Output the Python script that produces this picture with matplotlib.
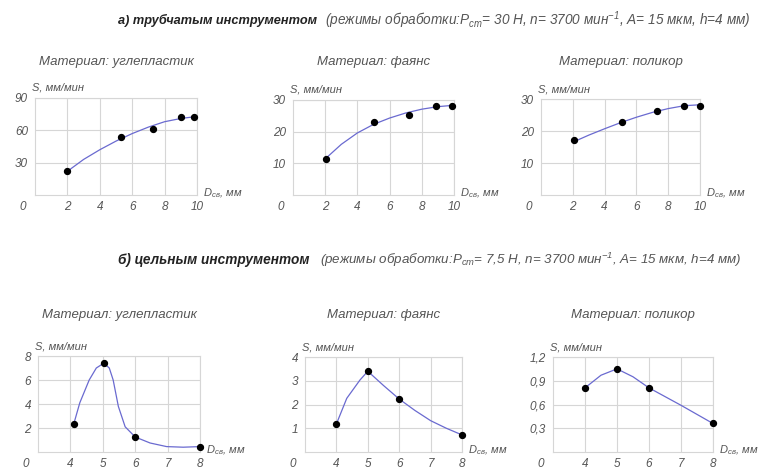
import matplotlib
matplotlib.use("Agg")
import matplotlib.pyplot as plt

plt.rcParams["font.family"] = ["Liberation Sans", "DejaVu Sans"]
plt.rcParams["font.style"] = "italic"
plt.rcParams["mathtext.fontset"] = "custom"
plt.rcParams["mathtext.rm"] = "Liberation Sans:italic"
plt.rcParams["mathtext.it"] = "Liberation Sans:italic"
plt.rcParams["mathtext.bf"] = "Liberation Sans:bold:italic"

W, H = 763, 473

# --- a) tubular tool: measured points and drawn trend curves ---
tube_coal_x = [2.0, 5.3, 7.3, 9.0, 9.8]
tube_coal_y = [22, 54, 61, 72.5, 72.5]
tube_coal_cx = [2, 3, 4, 5, 6, 7, 8, 9, 9.8]
tube_coal_cy = [22, 33, 42, 50, 57, 63, 68, 71, 72.5]

tube_faience_x = [2.05, 5.0, 7.2, 8.9, 9.9]
tube_faience_y = [11.4, 23, 25.3, 28, 28]
tube_faience_cx = [2, 3, 4, 5, 6, 7, 8, 9, 9.9]
tube_faience_cy = [11.4, 16, 19.6, 22.3, 24.3, 25.9, 27.1, 27.9, 28.3]

tube_polycor_x = [2.05, 5.1, 7.3, 9.0, 10.0]
tube_polycor_y = [17.2, 22.8, 26.3, 27.8, 27.8]
tube_polycor_cx = [2, 3, 4, 5, 6, 7, 8, 9, 10]
tube_polycor_cy = [16.5, 18.7, 20.7, 22.6, 24.3, 25.8, 27.0, 27.9, 28.2]

# --- б) solid tool ---
solid_coal_x = [4.1, 5.03, 6.0, 8.0]
solid_coal_y = [2.3, 7.4, 1.25, 0.45]
solid_coal_cx = [4.1, 4.29, 4.58, 4.8, 5.03, 5.2, 5.32, 5.48, 5.69, 6.0, 6.46, 6.97, 7.48, 8.0]
solid_coal_cy = [2.3, 4.1, 6.0, 7.0, 7.4, 7.0, 6.0, 3.8, 2.1, 1.25, 0.75, 0.45, 0.4, 0.45]

solid_faience_x = [4.0, 5.0, 6.0, 8.0]
solid_faience_y = [1.18, 3.4, 2.23, 0.72]
solid_faience_cx = [4.0, 4.33, 4.75, 5.0, 5.5, 6.0, 6.5, 7.0, 7.5, 8.0]
solid_faience_cy = [1.18, 2.26, 3.03, 3.4, 2.8, 2.23, 1.75, 1.32, 1.0, 0.72]

solid_polycor_x = [4.0, 5.0, 6.0, 8.0]
solid_polycor_y = [0.81, 1.05, 0.81, 0.37]
solid_polycor_cx = [4.0, 4.5, 5.0, 5.5, 6.0, 7.0, 8.0]
solid_polycor_cy = [0.81, 0.97, 1.05, 0.95, 0.81, 0.59, 0.36]

top_xticks = [2, 4, 6, 8, 10]
bottom_xticks = [4, 5, 6, 7, 8]

GRID = "#d6d6d6"
TXT = "#555555"
LINE = "#6a6ad0"


def add_axes_px(left, top, right, bottom):
    return fig.add_axes([left / W, 1 - bottom / H, (right - left) / W, (bottom - top) / H])


def draw_panel(ax, px, py, cx, cy, xlim, xticks, ylim, yticks, ylabels, title, title_gap):
    ax.set_xlim(*xlim)
    ax.set_ylim(*ylim)
    ax.set_xticks(xticks)
    ax.set_xticklabels([str(t) for t in xticks])
    ax.set_yticks(yticks)
    ax.set_yticklabels(ylabels)
    ax.grid(True, color=GRID, lw=0.8)
    ax.set_axisbelow(True)
    for sp in ax.spines.values():
        sp.set_color(GRID)
        sp.set_linewidth(0.8)
    ax.tick_params(length=0, labelsize=8.5, labelcolor=TXT)
    ax.tick_params(axis="x", pad=4)
    ax.tick_params(axis="y", pad=5)

    ax.plot(cx, cy, color=LINE, lw=0.9, zorder=2)
    ax.scatter(px, py, s=18, color="black", zorder=3, clip_on=False)

    # corner origin label, y-axis name, x-axis name, panel title
    ax.annotate("0", xy=(0, 0), xycoords="axes fraction", xytext=(-12, -12),
                textcoords="offset pixels", ha="center", va="center",
                fontsize=8.5, color=TXT)
    ax.annotate("S, мм/мин", xy=(0, 1), xycoords="axes fraction", xytext=(-3, 10),
                textcoords="offset pixels", ha="left", va="center",
                fontsize=8, color=TXT)
    ax.annotate(r"D$_{св}$, мм", xy=(1, 0), xycoords="axes fraction", xytext=(6, 2),
                textcoords="offset pixels", ha="left", va="center",
                fontsize=8, color=TXT)
    ax.annotate(title, xy=(0.5, 1), xycoords="axes fraction", xytext=(0, title_gap),
                textcoords="offset pixels", ha="center", va="center",
                fontsize=9.5, color=TXT)


fig = plt.figure(figsize=(W / 100, H / 100), dpi=100)

fig.text(118 / W, 1 - 20 / H, "а) трубчатым инструментом", fontsize=9.2,
         fontweight="bold", fontstyle="italic", color="#222222", va="center")
fig.text(325 / W, 1 - 20 / H,
         r"(режимы обработки:$P_{ст}$= 30 Н, n= 3700 мин$^{-1}$, A= 15 мкм, h=4 мм)",
         fontsize=9.8, color=TXT, va="center")
fig.text(118 / W, 1 - 260 / H, "б) цельным инструментом", fontsize=9.8,
         fontweight="bold", fontstyle="italic", color="#222222", va="center")
fig.text(320 / W, 1 - 260 / H,
         r"(режимы обработки:$P_{ст}$= 7,5 Н, n= 3700 мин$^{-1}$, A= 15 мкм, h=4 мм)",
         fontsize=9.6, color=TXT, va="center")

ax1 = add_axes_px(35, 98, 197, 195)
draw_panel(ax1, tube_coal_x, tube_coal_y, tube_coal_cx, tube_coal_cy,
           (0, 10), top_xticks, (0, 90), [30, 60, 90], ["30", "60", "90"],
           "Материал: углепластик", 36)
ax2 = add_axes_px(293, 100, 454, 195)
draw_panel(ax2, tube_faience_x, tube_faience_y, tube_faience_cx, tube_faience_cy,
           (0, 10), top_xticks, (0, 30), [10, 20, 30], ["10", "20", "30"],
           "Материал: фаянс", 38)
ax3 = add_axes_px(541, 99, 700, 195)
draw_panel(ax3, tube_polycor_x, tube_polycor_y, tube_polycor_cx, tube_polycor_cy,
           (0, 10), top_xticks, (0, 30), [10, 20, 30], ["10", "20", "30"],
           "Материал: поликор", 37)

ax4 = add_axes_px(38, 356, 200, 452)
draw_panel(ax4, solid_coal_x, solid_coal_y, solid_coal_cx, solid_coal_cy,
           (3, 8), bottom_xticks, (0, 8), [2, 4, 6, 8], ["2", "4", "6", "8"],
           "Материал: углепластик", 41)
ax5 = add_axes_px(305, 357, 462, 452)
draw_panel(ax5, solid_faience_x, solid_faience_y, solid_faience_cx, solid_faience_cy,
           (3, 8), bottom_xticks, (0, 4), [1, 2, 3, 4], ["1", "2", "3", "4"],
           "Материал: фаянс", 42)
ax6 = add_axes_px(553, 357, 713, 452)
draw_panel(ax6, solid_polycor_x, solid_polycor_y, solid_polycor_cx, solid_polycor_cy,
           (3, 8), bottom_xticks, (0, 1.2), [0.3, 0.6, 0.9, 1.2], ["0,3", "0,6", "0,9", "1,2"],
           "Материал: поликор", 42)

fig.savefig("out.png", dpi=100)
